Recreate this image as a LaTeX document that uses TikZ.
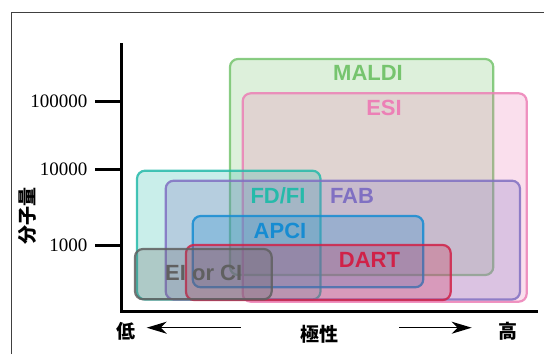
\documentclass[tikz,border=0pt]{standalone}
\usepackage{fontspec}
\setmainfont{Liberation Serif}
\setsansfont{Liberation Sans}
\newfontfamily\jp{Noto Sans CJK JP}
\usetikzlibrary{arrows.meta}
\definecolor{maldicol}{RGB}{118,196,110}
\definecolor{esicol}{RGB}{236,128,182}
\definecolor{fdcol}{RGB}{38,186,170}
\definecolor{fabcol}{RGB}{128,112,194}
\definecolor{apcicol}{RGB}{22,140,210}
\definecolor{dartcol}{RGB}{208,34,72}
\definecolor{eicol}{RGB}{96,96,96}
\tikzset{
	range/.style={rounded corners=8pt, line width=2.2pt, draw=#1, fill=#1, fill opacity=0.25, draw opacity=0.85},
	lbl/.style={font={\sffamily\bfseries\fontsize{22pt}{22pt}\selectfont}, text=#1},
	tick/.style={font={\fontsize{19pt}{19pt}\selectfont}, anchor=east},
	jlbl/.style={font={\jp\bfseries\fontsize{19pt}{19pt}\selectfont}},
}
\begin{document}
\begin{tikzpicture}[x=1pt, y=-1pt]
		\useasboundingbox (0,0) rectangle (544,354);
		\draw[line width=1pt, black!75] (11.7,354) -- (11.7,12.7) -- (544,12.7);
		
		\draw[range=maldicol] (230,59) rectangle (493.3,275);
		\draw[range=esicol] (242.7,93.3) rectangle (526.7,301.7);
		\draw[range=fdcol] (137,170.7) rectangle (320.5,299.5);
		\draw[range=fabcol] (165.7,180.7) rectangle (520,299.5);
		\draw[range=apcicol] (192.7,216) rectangle (423.3,287.3);
		\draw[range=dartcol] (186,245) rectangle (450.7,300);
		\draw[range=eicol] (135,249) rectangle (271.7,299.3);
		
		\node[lbl=maldicol] (maldi) at (368,73.3) {MALDI};
		\node[lbl=esicol] (esi) at (384,108.3) {ESI};
		\node[lbl=fdcol] (fdfi) at (278,195.8) {FD/FI};
		\node[lbl=fabcol] (fab) at (352,195.8) {FAB};
		\node[lbl=apcicol] (apci) at (280,230.5) {APCI};
		\node[lbl=dartcol] (dart) at (369.5,259.5) {DART};
		\node[lbl=eicol] (eici) at (203.7,272.5) {EI or CI};
		
		\draw[line width=2.8pt] (121.7,43.3) -- (121.7,311.7) -- (538.3,311.7);
		\foreach \y/\v in {101.7/100000, 169.3/10000, 245.7/1000} {
			\draw[line width=2.8pt] (95,\y) -- (121.7,\y);
			\node[tick] (t\v) at (91,\y) {\v};
		}
		\node[jlbl, rotate=90] (mw) at (27.5,215.7) {分子量};
		
		\node[jlbl] (low) at (126,331.7) {低};
		\node[jlbl] (pol) at (319.5,334) {極性};
		\node[jlbl] (high) at (507.7,331) {高};
		\coordinate (ltail) at (240.7,327.7);
		\coordinate (lhead) at (146.7,327.7);
		\coordinate (rtail) at (399.3,327.7);
		\coordinate (rhead) at (471.7,327.7);
		\draw[line width=1.3pt, -{Stealth[length=20pt, width=12pt, inset=6pt]}] (ltail) -- (lhead);
		\draw[line width=1.3pt, -{Stealth[length=20pt, width=12pt, inset=6pt]}] (rtail) -- (rhead);
	\end{tikzpicture}
\end{document}
